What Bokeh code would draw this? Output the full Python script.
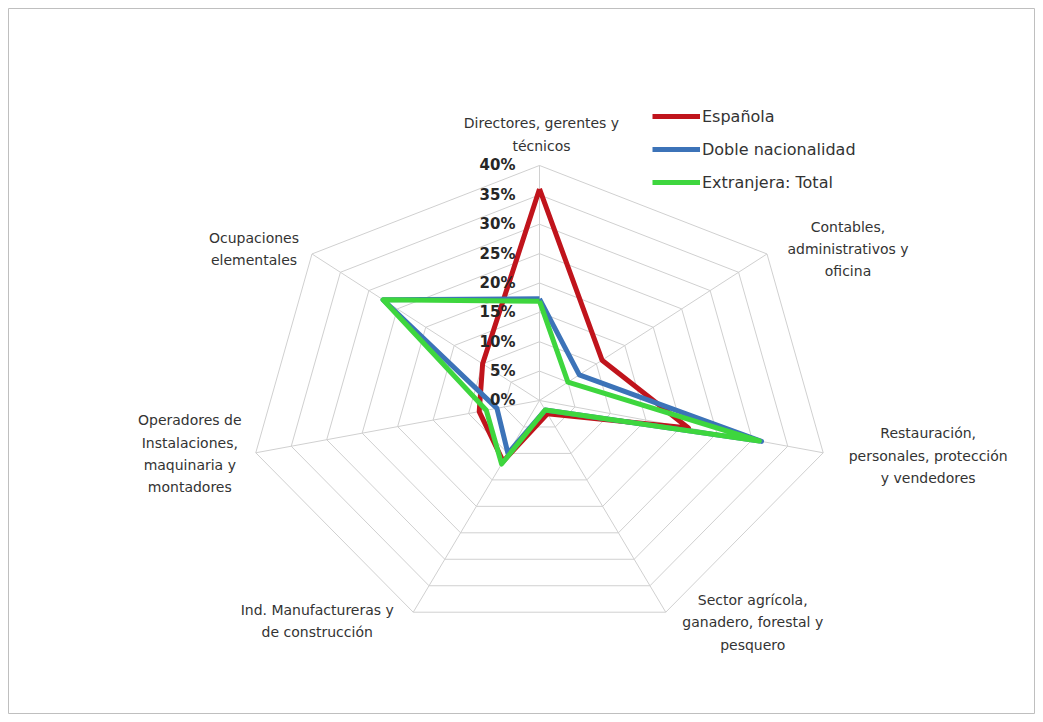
import math
from bokeh.plotting import figure
from bokeh.models import Range1d, Legend, LegendItem
from bokeh.core.properties import value
from bokeh.embed import file_html
from bokeh.resources import INLINE

# ---- data ----
categories = [
    "Directores, gerentes y\ntécnicos",
    "Contables,\nadministrativos y\noficina",
    "Restauración,\npersonales, protección\ny vendedores",
    "Sector agrícola,\nganadero, forestal y\npesquero",
    "Ind. Manufactureras y\nde construcción",
    "Operadores de\nInstalaciones,\nmaquinaria y\nmontadores",
    "Ocupaciones\nelementales",
]
series_names = ["Española", "Doble nacionalidad", "Extranjera: Total"]
espanola = [36.0, 11.0, 21.0, 2.5, 11.5, 8.5, 10.0]
doble = [17.3, 7.0, 31.3, 1.8, 10.0, 6.0, 27.5]
extranjera = [16.9, 5.0, 31.0, 1.8, 12.0, 7.5, 27.5]
tick_values = [0, 5, 10, 15, 20, 25, 30, 35, 40]
tick_labels = ["0%", "5%", "10%", "15%", "20%", "25%", "30%", "35%", "40%"]

# ---- styling / layout ----
colors = ["#C0141C", "#3C73B8", "#3ED63E"]
label_offsets = [(2, -31), (81, -5), (105, 3), (87, 10), (-96, 9), (-66, 1), (-58, -5)]
W, H = 1035, 714
n = len(categories)
angles = [math.radians(90 - i * 360.0 / n) for i in range(n)]
rmax = tick_values[-1]

def pt(v, a):
    return v * math.cos(a), v * math.sin(a)

p = figure(width=W, height=H, output_backend="svg", toolbar_location=None,
           x_range=Range1d(-72.99, 68.18), y_range=Range1d(-53.45, 66.72),
           min_border_left=8, min_border_top=8, min_border_right=0, min_border_bottom=0)
p.xaxis.visible = False
p.yaxis.visible = False
p.grid.visible = False
p.outline_line_color = "#BFBFBF"
p.outline_line_width = 1
p.background_fill_color = "white"
p.border_fill_color = "white"

grid_color = "#D0D0D0"
# rings
for t in tick_values[1:]:
    xs = [pt(t, a)[0] for a in angles] + [pt(t, angles[0])[0]]
    ys = [pt(t, a)[1] for a in angles] + [pt(t, angles[0])[1]]
    p.line(xs, ys, line_color=grid_color, line_width=1)
# spokes
p.segment(x0=[0] * n, y0=[0] * n,
          x1=[pt(rmax, a)[0] for a in angles], y1=[pt(rmax, a)[1] for a in angles],
          line_color=grid_color, line_width=1)

# series
renderers = []
for vals, c in zip([espanola, doble, extranjera], colors):
    xs = [pt(v, a)[0] for v, a in zip(vals, angles)]
    ys = [pt(v, a)[1] for v, a in zip(vals, angles)]
    xs.append(xs[0]); ys.append(ys[0])
    r = p.line(xs, ys, line_color=c, line_width=5, line_join="round")
    renderers.append(r)

# tick labels
p.text(x=[0] * len(tick_values), y=tick_values, text=tick_labels,
       x_offset=-24, text_align="right", text_baseline="middle",
       text_font=value("DejaVu Sans"), text_font_size="15px", text_font_style="bold",
       text_color="#262626")

# category labels
for cat, a, (dx, dy) in zip(categories, angles, label_offsets):
    x, y = pt(rmax, a)
    p.text(x=[x], y=[y], text=[cat], x_offset=dx, y_offset=dy,
           text_align="center", text_baseline="middle",
           text_font=value("DejaVu Sans"), text_font_size="14px",
           text_line_height=1.4, text_color="#333333")

legend = Legend(items=[LegendItem(label=nm, renderers=[r]) for nm, r in zip(series_names, renderers)],
                location=(644, 522), orientation="vertical",
                glyph_width=48, glyph_height=20, spacing=13, label_standoff=2,
                padding=0, margin=0, background_fill_alpha=0, border_line_alpha=0,
                label_text_font="DejaVu Sans", label_text_font_size="16px",
                label_text_color="#333333")
p.add_layout(legend, "center")

open("out.html", "w").write(file_html(p, INLINE))
